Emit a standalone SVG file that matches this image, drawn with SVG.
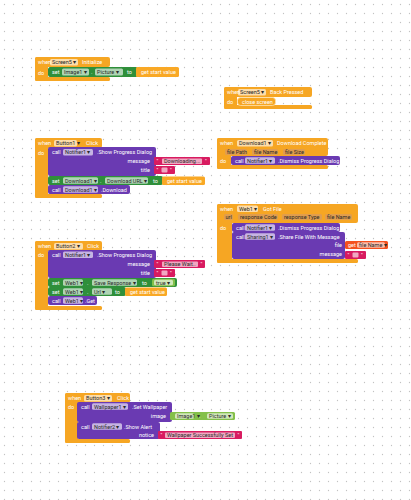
<svg xmlns="http://www.w3.org/2000/svg" width="411" height="500" viewBox="0 0 411 500">
<defs>
<pattern id="dots" width="9" height="9" patternUnits="userSpaceOnUse">
<circle cx="4.5" cy="4.5" r="0.65" fill="#c2c2c2"/>
</pattern>
</defs>
<style>
text{font-family:Roboto,"Liberation Sans",sans-serif;font-size:5.5px;fill:#fff}
.ev{fill:#F6A623}
.pu{fill:#6A3AB2}
.gr{fill:#2F8F3A}
.lg{fill:#84C04A}
.pk{fill:#D81B60}
.ro{fill:#F4511E}
.gs{fill:#F9A825}
.fld{fill:#fff;fill-opacity:0.62}
.prm{fill:#D89A5C;fill-opacity:0.75}
.ft{fill:#2a2a2a}
.r{text-anchor:end}
</style>
<rect width="411" height="500" fill="#fff"/>
<rect width="411" height="500" fill="url(#dots)"/>

<g id="screen5-initialize">
<rect class="ev" x="35" y="57" width="75" height="10" rx="2"/>
<rect class="ev" x="35" y="57" width="13" height="24" rx="2"/>
<rect class="ev" x="35" y="77" width="75" height="4" rx="1.5"/>
<text x="38" y="64">when</text>
<rect class="fld" x="50" y="59" width="28" height="6.5" rx="1.5"/>
<text class="ft" x="52" y="64">Screen5 ▾</text>
<text x="82" y="64">Initialize</text>
<text x="38" y="74.5">do</text>
<rect class="gr" x="48" y="67" width="90" height="10" rx="2.5"/>
<text x="52" y="74">set</text>
<rect class="fld" x="62" y="68.5" width="27" height="7" rx="1.5"/>
<text class="ft" x="64" y="74">Image1 ▾</text>
<text x="91" y="74">.</text>
<rect class="fld" x="95" y="68.5" width="28" height="7" rx="1.5"/>
<text class="ft" x="97" y="74">Picture ▾</text>
<text x="127" y="74">to</text>
<rect class="gs" x="136" y="67" width="43" height="10" rx="1.5"/>
<text x="141" y="74">get start value</text>
</g>

<g id="screen5-backpressed">
<rect class="ev" x="224" y="87" width="88" height="10" rx="2"/>
<rect class="ev" x="224" y="87" width="13" height="22" rx="2"/>
<rect class="ev" x="224" y="105" width="88" height="4" rx="1.5"/>
<text x="227" y="94">when</text>
<rect class="fld" x="238" y="89" width="28" height="6.5" rx="1.5"/>
<text class="ft" x="240" y="94">Screen5 ▾</text>
<text x="270" y="94">Back Pressed</text>
<text x="227" y="103.5">do</text>
<rect class="ev" x="237.5" y="97.5" width="38" height="8" rx="3" stroke="#FFE3B0" stroke-width="0.8"/>
<text x="242" y="103.5">close screen</text>
</g>

<g id="button1-click">
<rect class="ev" x="35" y="138" width="67" height="10" rx="2"/>
<rect class="ev" x="35" y="138" width="13" height="60" rx="2"/>
<rect class="ev" x="35" y="194" width="67" height="4" rx="1.5"/>
<text x="38" y="145">when</text>
<rect class="fld" x="54" y="140" width="23" height="6.5" rx="1.5"/>
<text class="ft" x="56" y="145">Button1 ▾</text>
<text x="86" y="145">Click</text>
<text x="38" y="154.5">do</text>
<rect class="pu" x="48" y="147" width="108" height="29" rx="2"/>
<text x="52" y="154">call</text>
<rect class="fld" x="63" y="149" width="30" height="6.5" rx="1.5"/>
<text class="ft" x="65" y="154">Notifier1 ▾</text>
<text x="97" y="154">.Show Progress Dialog</text>
<text class="r" x="150" y="163">message</text>
<text class="r" x="150" y="172">title</text>
<rect class="pk" x="154" y="157" width="56" height="8" rx="1"/>
<text x="156.5" y="163">"</text>
<rect class="fld" x="162" y="158.5" width="40" height="5.5" rx="1"/>
<text class="ft" x="164" y="163">Downloading...</text>
<text x="205" y="163">"</text>
<rect class="pk" x="154" y="166" width="21" height="8" rx="1"/>
<text x="156.5" y="172">"</text>
<rect class="fld" x="161.5" y="167.5" width="6" height="5" rx="1"/>
<text x="170" y="172">"</text>
<rect class="gr" x="48" y="176" width="115" height="9" rx="2"/>
<text x="52" y="182.5">set</text>
<rect class="fld" x="63" y="177.3" width="35" height="6.5" rx="1.5"/>
<text class="ft" x="65" y="182.5">Download1 ▾</text>
<text x="100" y="182.5">.</text>
<rect class="fld" x="105" y="177.3" width="43" height="6.5" rx="1.5"/>
<text class="ft" x="107" y="182.5">Download URL ▾</text>
<text x="153" y="182.5">to</text>
<rect class="gs" x="162" y="176.5" width="43" height="8.5" rx="1.5"/>
<text x="167" y="182.5">get start value</text>
<rect class="pu" x="48" y="185" width="82" height="9" rx="2"/>
<text x="52" y="191.5">call</text>
<rect class="fld" x="63" y="186.3" width="35" height="6.5" rx="1.5"/>
<text class="ft" x="65" y="191.5">Download1 ▾</text>
<text x="101" y="191.5">.Download</text>
</g>

<g id="download1-complete">
<rect class="ev" x="217" y="138" width="111" height="18" rx="2"/>
<rect class="ev" x="217" y="138" width="14" height="31" rx="2"/>
<rect class="ev" x="217" y="165" width="111" height="4" rx="1.5"/>
<text x="220" y="145">when</text>
<rect class="fld" x="237" y="140" width="36" height="6.5" rx="1.5"/>
<text class="ft" x="239" y="145">Download1 ▾</text>
<text x="277" y="145">Download Complete</text>
<rect class="prm" x="225" y="149" width="22" height="6" rx="1.5"/>
<text class="ft" x="227" y="153.8">file Path</text>
<rect class="prm" x="252" y="149" width="26" height="6" rx="1.5"/>
<text class="ft" x="254" y="153.8">file Name</text>
<rect class="prm" x="283" y="149" width="22" height="6" rx="1.5"/>
<text class="ft" x="285" y="153.8">file Size</text>
<text x="220" y="163">do</text>
<rect class="pu" x="231" y="156" width="109" height="9" rx="2"/>
<text x="235" y="162.5">call</text>
<rect class="fld" x="245" y="157.3" width="30" height="6.5" rx="1.5"/>
<text class="ft" x="247" y="162.5">Notifier1 ▾</text>
<text x="278" y="162.5">.Dismiss Progress Dialog</text>
</g>

<g id="web1-gotfile">
<rect class="ev" x="217" y="204" width="141" height="19" rx="2"/>
<rect class="ev" x="217" y="204" width="15" height="59" rx="2"/>
<rect class="ev" x="217" y="259" width="141" height="4" rx="1.5"/>
<text x="220" y="210.5">when</text>
<rect class="fld" x="237" y="205.5" width="21" height="6.5" rx="1.5"/>
<text class="ft" x="239" y="210.5">Web1 ▾</text>
<text x="263" y="210.5">Got File</text>
<rect class="prm" x="224" y="214" width="9" height="6" rx="1.5"/>
<text class="ft" x="225.5" y="218.8">url</text>
<rect class="prm" x="238" y="214" width="40" height="6" rx="1.5"/>
<text class="ft" x="240" y="218.8">response Code</text>
<rect class="prm" x="282" y="214" width="40" height="6" rx="1.5"/>
<text class="ft" x="284" y="218.8">response Type</text>
<rect class="prm" x="325" y="214" width="27" height="6" rx="1.5"/>
<text class="ft" x="327" y="218.8">file Name</text>
<text x="220" y="229.5">do</text>
<rect class="pu" x="232" y="223" width="108" height="9" rx="2"/>
<text x="236" y="229.5">call</text>
<rect class="fld" x="245" y="224.3" width="30" height="6.5" rx="1.5"/>
<text class="ft" x="247" y="229.5">Notifier1 ▾</text>
<text x="278" y="229.5">.Dismiss Progress Dialog</text>
<rect class="pu" x="232" y="232" width="113" height="27" rx="2"/>
<text x="236" y="238.5">call</text>
<rect class="fld" x="245" y="233.3" width="30" height="6.5" rx="1.5"/>
<text class="ft" x="247" y="238.5">Sharing1 ▾</text>
<text x="278" y="238.5">.Share File With Message</text>
<text class="r" x="342" y="247">file</text>
<text class="r" x="342" y="256">message</text>
<rect class="ro" x="345" y="241" width="43" height="8" rx="1.5"/>
<text x="348" y="247">get</text>
<rect class="fld" x="357" y="242.3" width="28" height="5.5" rx="1.5"/>
<text class="ft" x="359" y="247">file Name ▾</text>
<rect class="pk" x="345" y="251" width="21" height="8" rx="1"/>
<text x="347.5" y="257">"</text>
<rect class="fld" x="352.5" y="252.5" width="6" height="5" rx="1"/>
<text x="361" y="257">"</text>
</g>

<g id="button2-click">
<rect class="ev" x="35" y="241" width="67" height="10" rx="2"/>
<rect class="ev" x="35" y="241" width="13" height="69" rx="2"/>
<rect class="ev" x="35" y="306" width="67" height="4" rx="1.5"/>
<text x="38" y="248">when</text>
<rect class="fld" x="54" y="243" width="29" height="6.5" rx="1.5"/>
<text class="ft" x="56" y="248">Button2 ▾</text>
<text x="87" y="248">Click</text>
<text x="38" y="257">do</text>
<rect class="pu" x="48" y="250" width="108" height="28" rx="2"/>
<text x="52" y="256.5">call</text>
<rect class="fld" x="63" y="251.5" width="30" height="6.5" rx="1.5"/>
<text class="ft" x="65" y="256.5">Notifier1 ▾</text>
<text x="97" y="256.5">.Show Progress Dialog</text>
<text class="r" x="150" y="266">message</text>
<text class="r" x="150" y="275">title</text>
<rect class="pk" x="154" y="260" width="51" height="8" rx="1"/>
<text x="156.5" y="266">"</text>
<rect class="fld" x="162" y="261.5" width="36" height="5.5" rx="1"/>
<text class="ft" x="164" y="266">Please Wait..</text>
<text x="200.5" y="266">"</text>
<rect class="pk" x="154" y="269" width="21" height="8" rx="1"/>
<text x="156.5" y="275">"</text>
<rect class="fld" x="161.5" y="270.5" width="6" height="5" rx="1"/>
<text x="170" y="275">"</text>
<rect class="gr" x="48" y="278" width="129" height="9" rx="2"/>
<text x="52" y="284.5">set</text>
<rect class="fld" x="63" y="279.3" width="20" height="6.5" rx="1.5"/>
<text class="ft" x="65" y="284.5">Web1 ▾</text>
<text x="87" y="284.5">.</text>
<rect class="fld" x="92" y="279.3" width="45" height="6.5" rx="1.5"/>
<text class="ft" x="94" y="284.5">Save Response ▾</text>
<text x="142" y="284.5">to</text>
<rect class="lg" x="152" y="278.8" width="23" height="7.5" rx="1.5"/>
<rect class="fld" x="154" y="279.8" width="19" height="5.5" rx="1.5"/>
<text class="ft" x="156" y="284.5">true ▾</text>
<rect class="gr" x="48" y="287" width="78" height="9" rx="2"/>
<text x="52" y="293.5">set</text>
<rect class="fld" x="63" y="288.3" width="20" height="6.5" rx="1.5"/>
<text class="ft" x="65" y="293.5">Web1 ▾</text>
<text x="87" y="293.5">.</text>
<rect class="fld" x="92" y="288.3" width="20" height="6.5" rx="1.5"/>
<text class="ft" x="94" y="293.5">Url ▾</text>
<text x="115" y="293.5">to</text>
<rect class="gs" x="125" y="287.5" width="42" height="8.5" rx="1.5"/>
<text x="130" y="293.5">get start value</text>
<rect class="pu" x="48" y="296" width="49" height="9" rx="2"/>
<text x="52" y="302.5">call</text>
<rect class="fld" x="63" y="297.3" width="20" height="6.5" rx="1.5"/>
<text class="ft" x="65" y="302.5">Web1 ▾</text>
<text x="85" y="302.5">.Get</text>
</g>

<g id="button3-click">
<rect class="ev" x="65" y="393" width="65" height="10" rx="2"/>
<rect class="ev" x="65" y="393" width="13" height="50" rx="2"/>
<rect class="ev" x="65" y="439" width="65" height="4" rx="1.5"/>
<text x="68" y="400">when</text>
<rect class="fld" x="84" y="395" width="28" height="6.5" rx="1.5"/>
<text class="ft" x="86" y="400">Button3 ▾</text>
<text x="117" y="400">Click</text>
<text x="68" y="409">do</text>
<rect class="pu" x="77" y="402" width="95" height="20" rx="2"/>
<text x="81" y="408.5">call</text>
<rect class="fld" x="92" y="403.3" width="36" height="6.5" rx="1.5"/>
<text class="ft" x="94" y="408.5">Wallpaper1 ▾</text>
<text x="132" y="408.5">.Set Wallpaper</text>
<text class="r" x="166" y="418">image</text>
<rect class="lg" x="170" y="412" width="65" height="8" rx="1.5"/>
<rect class="fld" x="175" y="413.3" width="19" height="5.5" rx="1.5"/>
<text class="ft" x="177" y="418">Image1 ▾</text>
<text x="199" y="418">.</text>
<rect class="fld" x="207" y="413.3" width="26" height="5.5" rx="1.5"/>
<text class="ft" x="209" y="418">Picture ▾</text>
<rect class="pu" x="77" y="422" width="83" height="17" rx="2"/>
<text x="81" y="428.5">call</text>
<rect class="fld" x="92" y="423.3" width="30" height="6.5" rx="1.5"/>
<text class="ft" x="94" y="428.5">Notifier2 ▾</text>
<text x="124" y="428.5">.Show Alert</text>
<text class="r" x="154" y="437">notice</text>
<rect class="pk" x="158" y="431" width="84" height="8" rx="1"/>
<text x="160.5" y="437">"</text>
<rect class="fld" x="165" y="432.5" width="70" height="5.5" rx="1"/>
<text class="ft" x="167" y="437">Wallpaper Successfully Set</text>
<text x="237.5" y="437">"</text>
</g>

<g id="connectors"></g>
</svg>
